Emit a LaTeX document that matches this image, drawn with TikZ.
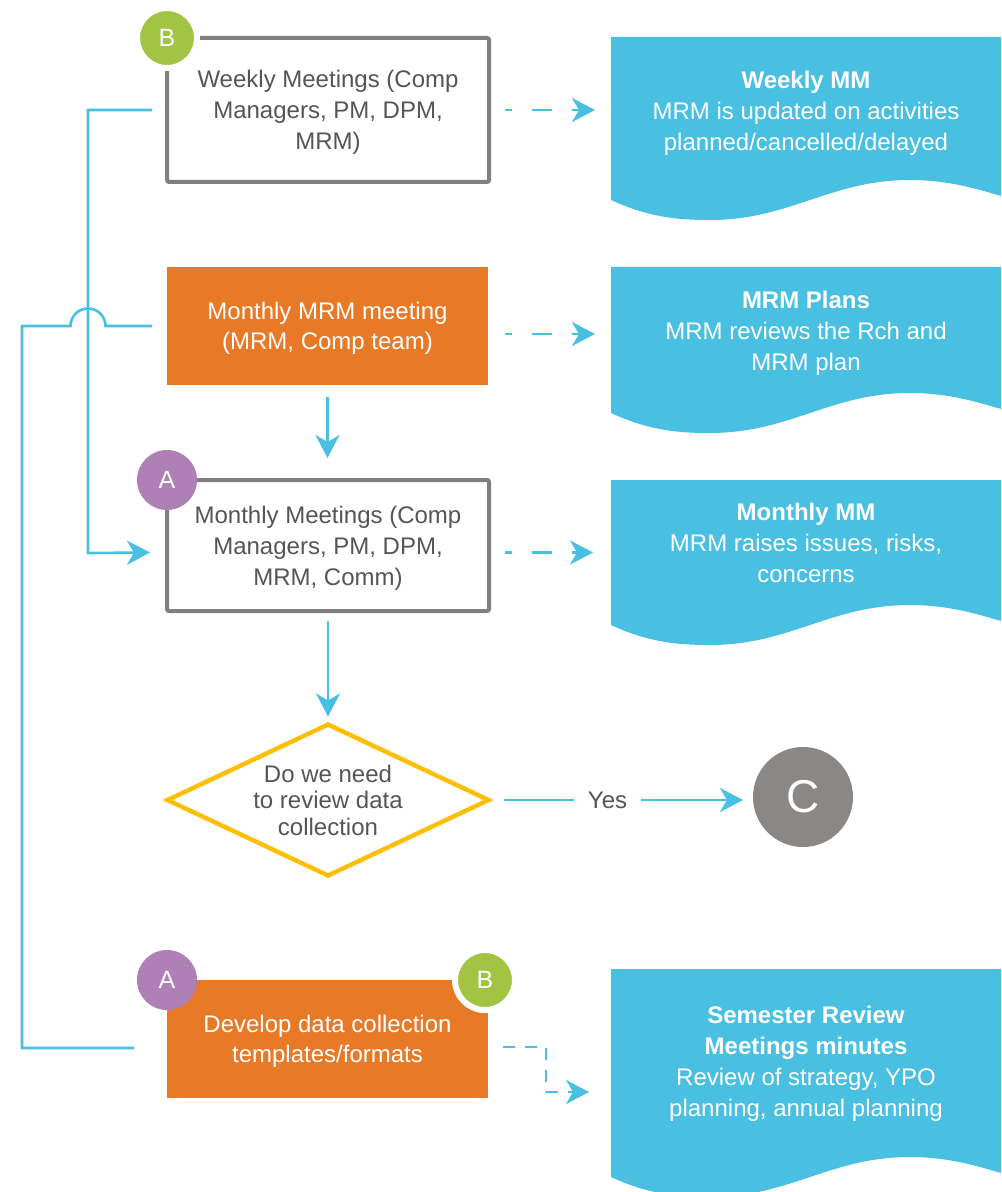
\documentclass[tikz,border=0pt]{standalone}
\usepackage{fontspec}
\setmainfont{Liberation Sans}
\usepackage{xcolor}
\usepackage{tikz}
\usetikzlibrary{shapes,arrows.meta}
\tikzset{>={Stealth[length=11.5pt,width=12pt,inset=3.5pt]}}

\definecolor{lineblue}{RGB}{73,191,226}
\definecolor{taskorange}{RGB}{232,121,38}
\definecolor{boxgray}{RGB}{128,128,128}
\definecolor{txtgray}{RGB}{85,85,85}
\definecolor{dyellow}{RGB}{255,190,0}
\definecolor{apurple}{RGB}{175,128,181}
\definecolor{bgreen}{RGB}{162,196,67}
\definecolor{cgray}{RGB}{138,135,135}

% wavy document: top, bottom-left
\newcommand{\docwave}[2]{%
  \fill[lineblue] (611,#1) -- (1001,#1) -- (1001,{#2-4})
    .. controls (980,{#2-10}) and (950,{#2-20}) .. (910,{#2-20})
    .. controls (830,{#2-20}) and (790,{#2+20}) .. (710,{#2+20})
    .. controls (680,{#2+20}) and (650,{#2+18}) .. (611,#2) -- cycle;}

\begin{document}
\begin{tikzpicture}[
x=0.5pt, y=-0.5pt,
every node/.style={outer sep=0pt},
meetbox/.style={rectangle, draw=boxgray, line width=2pt, rounded corners=1pt, minimum width=161pt, minimum height=72pt, text depth=0pt, text=txtgray, align=center, font=\fontsize{12}{15.5}\selectfont},
taskbox/.style={rectangle, fill=taskorange, minimum width=160.5pt, minimum height=59pt, text depth=0pt, text=white, align=center, font=\fontsize{12}{15}\selectfont},
decision/.style={diamond, draw=dyellow, line width=2.2pt, aspect=2.13, minimum width=160.5pt, minimum height=75.5pt, inner sep=0pt, text depth=0pt, text=txtgray, align=center, font=\fontsize{12}{13.25}\selectfont},
doctext/.style={minimum width=195pt, text depth=0pt, text=white, align=center, font=\fontsize{12}{15.5}\selectfont},
badge/.style={circle, minimum size=30pt, inner sep=0pt, text=white, font=\fontsize{12.5}{12.5}\selectfont},
ring/.style={draw=white, line width=3pt},
endpoint/.style={circle, fill=cgray, minimum size=50pt, text=white, font=\fontsize{23}{23}\selectfont},
flow/.style={draw=lineblue, line width=1.3pt},
dashflow/.style={flow, dash pattern=on 10pt off 10pt, dash phase=6.5pt},
elbowflow/.style={flow, dash pattern=on 6pt off 5pt},
]
\useasboundingbox (0,0) rectangle (1001,1192);

%Documents
\docwave{37}{200}
\docwave{267}{413}
\docwave{480}{625}
\docwave{969}{1177}
\node[doctext](wmm) at (806,111){\textbf{Weekly MM}\\MRM is updated on activities\\planned/cancelled/delayed};
\node[doctext](mrmplans) at (806,331){\textbf{MRM Plans}\\MRM reviews the Rch and\\MRM plan};
\node[doctext](mmm) at (806,543){\textbf{Monthly MM}\\MRM raises issues, risks,\\concerns};
\node[doctext](smm) at (806,1061){\textbf{Semester Review}\\\textbf{Meetings minutes}\\Review of strategy, YPO\\planning, annual planning};

%Nodes
\node[meetbox](weekly) at (328,110){Weekly Meetings (Comp\\Managers, PM, DPM,\\MRM)};
\node[taskbox](mrm) at (327.5,326){Monthly MRM meeting\\(MRM, Comp team)};
\node[meetbox, minimum height=65.5pt](monthly) at (328,545.5){Monthly Meetings (Comp\\Managers, PM, DPM,\\MRM, Comm)};
\node[decision](review) at (328,800){Do we need\\to review data\\collection};
\node[endpoint](c) at (803,797){C};
\node[taskbox](develop) at (327.5,1039){Develop data collection\\templates/formats};

%Badges
\node[badge, ring, fill=bgreen](bweekly) at (weekly.north west){B};
\node[badge, fill=apurple](amonthly) at (monthly.north west){A};
\node[badge, fill=apurple](adevelop) at (develop.north west){A};
\node[badge, ring, fill=bgreen](bdevelop) at ([xshift=-1.5pt]develop.north east){B};

%Connectors
\draw[flow,->,shorten <=6pt,shorten >=11pt] (mrm.south) -- (mrm.south |- monthly.north);
\draw[flow,->,shorten <=5pt,shorten >=4pt] (monthly.south) -- (review.north);
\draw[flow,->,shorten <=7.5pt,shorten >=5pt] (review.east) -- node[pos=0.45, fill=white, text=txtgray, inner xsep=7pt, font=\fontsize{12}{12}\selectfont]{Yes} (review.east -| c.west);
\draw[flow,->] ([xshift=-7.5pt]weekly.west) -| (88,553) -- ([xshift=-8.5pt,yshift=-3.5pt]monthly.west);
\draw[flow] ([xshift=-16.5pt,yshift=-4.5pt]develop.west) -| (22,326) -- (70.5,326) arc[start angle=180, end angle=0, radius=8.75pt] -- ([xshift=-7.5pt]mrm.west);

\draw[dashflow,->] ([xshift=8pt]weekly.east) -- ([xshift=-8pt]weekly.east -| wmm.west);
\draw[dashflow,->] ([xshift=8.5pt,yshift=-4pt]mrm.east) -- ([xshift=-8pt,yshift=-4pt]mrm.east -| mrmplans.west);
\draw[dashflow,->] ([xshift=8pt,yshift=-3.5pt]monthly.east) -- ([xshift=-9pt,yshift=-3.5pt]monthly.east -| mmm.west);
\draw[elbowflow,->] ([xshift=7.5pt,yshift=-4pt]develop.east) -- ++(43,0) |- ([xshift=-11pt,yshift=-15.5pt]smm.west);
\end{tikzpicture}
\end{document}
